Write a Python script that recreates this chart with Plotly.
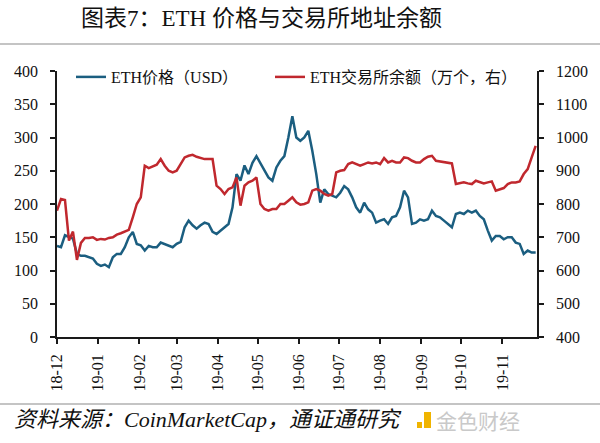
import pandas as pd
import plotly.graph_objects as go

# ---- data (sampled every 3 days from 2018-12-01) ----
start_date = "2018-12-01"
n_points = 121
eth_price = [137, 135, 153, 150, 148, 125, 122, 122, 120, 118,
             110, 107, 109, 105, 120, 125, 125, 135, 150, 158,
             140, 138, 130, 137, 135, 135, 142, 140, 137, 135,
             140, 143, 165, 175, 168, 163, 168, 172, 170, 158,
             155, 160, 165, 170, 195, 245, 235, 258, 245, 262,
             272, 262, 250, 240, 235, 255, 265, 272, 300, 332,
             300, 295, 300, 310, 280, 245, 202, 222, 215, 212,
             210, 217, 227, 222, 210, 195, 187, 202, 192, 187,
             172, 175, 177, 170, 180, 182, 195, 220, 210, 170,
             172, 177, 175, 177, 190, 182, 180, 175, 170, 165,
             185, 187, 185, 190, 187, 190, 182, 177, 160, 145,
             152, 152, 147, 150, 150, 142, 140, 125, 130, 127,
             127]
exchange_balance = [780, 815, 812, 690, 717, 632, 683, 698, 698, 700,
                    692, 695, 693, 698, 700, 708, 712, 718, 722, 760,
                    800, 820, 915, 908, 912, 918, 935, 915, 900, 895,
                    900, 920, 940, 945, 948, 942, 938, 935, 935, 935,
                    855, 845, 830, 845, 850, 880, 795, 855, 865, 870,
                    880, 800, 785, 780, 785, 785, 800, 800, 810, 820,
                    805, 798, 800, 805, 840, 845, 840, 830, 825, 830,
                    895, 900, 902, 920, 925, 920, 915, 920, 925, 922,
                    925, 920, 938, 925, 930, 925, 925, 940, 938, 930,
                    925, 925, 935, 942, 945, 930, 928, 925, 925, 922,
                    860, 862, 865, 862, 860, 870, 865, 862, 865, 868,
                    840, 845, 848, 860, 865, 865, 868, 890, 905, 940,
                    975]
dates = pd.date_range(start_date, periods=n_points, freq="3D")

title_text = "图表7：ETH 价格与交易所地址余额"
source_text = "资料来源：CoinMarketCap，通证通研究"
name_price = "ETH价格（USD）"
name_balance = "ETH交易所余额（万个，右）"

BLUE = "#1b5e80"
RED = "#c0282e"
SERIF = "Liberation Serif, Noto Sans CJK SC, serif"

fig = go.Figure()
fig.add_trace(go.Scatter(x=dates, y=eth_price[:n_points], name=name_price,
                         mode="lines", line=dict(color=BLUE, width=2.5), legend="legend"))
fig.add_trace(go.Scatter(x=dates, y=exchange_balance[:n_points], name=name_balance,
                         mode="lines", line=dict(color=RED, width=2.5), yaxis="y2",
                         legend="legend2"))

W, H = 600, 443
L, R, T, B = 57, 63, 71, 106
pw, ph = W - L - R, H - T - B


def px_x(px):
    return (px - L) / pw


def px_y(py):
    return (H - B - py) / ph


axis_common = dict(showline=True, linecolor="#1a1a1a", linewidth=1.5,
                   ticks="outside", ticklen=5, tickwidth=1.5, tickcolor="#1a1a1a",
                   showgrid=False, zeroline=False,
                   tickfont=dict(family=SERIF, size=16, color="#111"))

legend_common = dict(orientation="h", yanchor="middle", xanchor="left",
                     font=dict(family=SERIF, size=16, color="#111"),
                     bgcolor="rgba(0,0,0,0)", itemwidth=30)

fig.update_layout(
    width=W, height=H,
    margin=dict(l=L, r=R, t=T, b=B),
    paper_bgcolor="white", plot_bgcolor="white",
    showlegend=True,
    legend=dict(**legend_common, x=px_x(71), y=px_y(77)),
    legend2=dict(**legend_common, x=px_x(270), y=px_y(77)),
    xaxis=dict(**axis_common, type="date", range=["2018-12-01", "2019-11-27"],
               tick0="2018-12-01", dtick="M1", tickformat="%y-%m", tickangle=-90,
               ticklabelstandoff=4),
    yaxis=dict(**axis_common, range=[0, 400], dtick=50, ticklabelstandoff=9),
    yaxis2=dict(**axis_common, range=[400, 1200], dtick=100, overlaying="y",
                side="right", ticklabelstandoff=9),
)

fig.add_annotation(text=title_text, xref="paper", yref="paper", x=px_x(261), y=px_y(19),
                   xanchor="center", yanchor="middle", showarrow=False,
                   font=dict(family=SERIF, size=23, color="#111"))
fig.add_annotation(text=source_text, xref="paper", yref="paper", x=px_x(12), y=px_y(419),
                   xanchor="left", yanchor="middle", showarrow=False,
                   font=dict(family=SERIF, size=22, color="#111", style="italic"))
fig.add_annotation(text="金色财经", xref="paper", yref="paper", x=px_x(434), y=px_y(420),
                   xanchor="left", yanchor="middle", showarrow=False,
                   font=dict(family="Noto Sans CJK SC", size=21, color="#c9c9c9"))

shapes = [
    dict(type="line", xref="paper", yref="paper", x0=px_x(0), x1=px_x(600),
         y0=px_y(44), y1=px_y(44), line=dict(color="#b0b0b0", width=1.5)),
    dict(type="line", xref="paper", yref="paper", x0=px_x(0), x1=px_x(600),
         y0=px_y(404), y1=px_y(404), line=dict(color="#b0b0b0", width=1.5)),
    dict(type="rect", xref="paper", yref="paper", x0=px_x(424), x1=px_x(431),
         y0=px_y(428), y1=px_y(412), fillcolor="#f0b400", line=dict(width=0)),
    dict(type="rect", xref="paper", yref="paper", x0=px_x(417), x1=px_x(422),
         y0=px_y(428), y1=px_y(422), fillcolor="#f0b400", line=dict(width=0)),
]
fig.update_layout(shapes=shapes)

fig.write_html("out.html")
